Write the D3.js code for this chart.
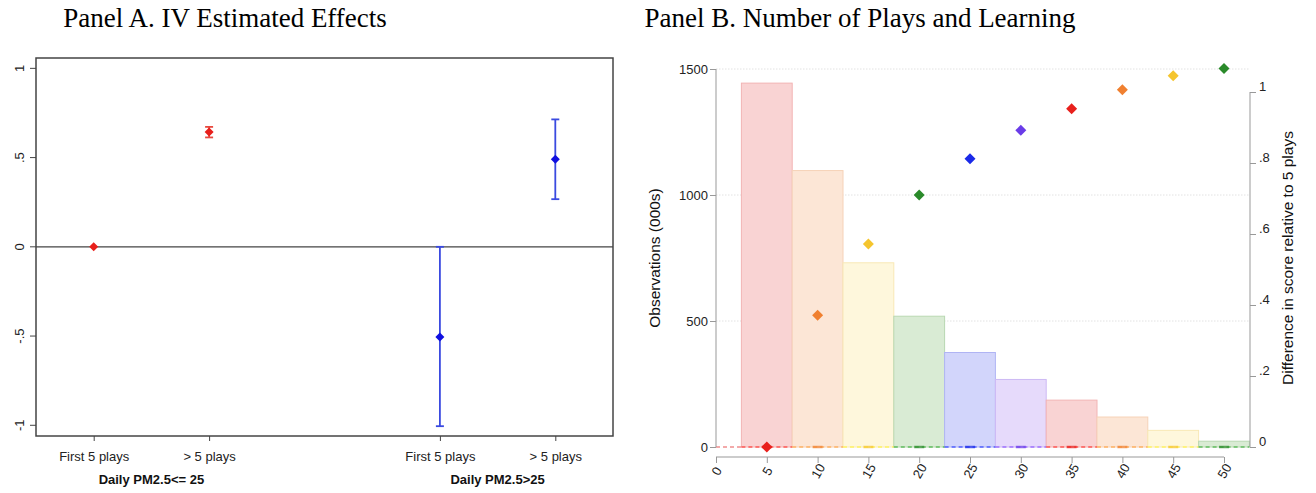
<!DOCTYPE html>
<html>
<head>
<meta charset="utf-8">
<script src="https://cdn.jsdelivr.net/npm/d3@7"></script>
<style>
  body { margin: 0; background: #fff; }
  svg { display: block; }
</style>
</head>
<body>
<svg id="chart" width="1316" height="493"></svg>
<script>
// Panel A data
var aLabels = ["First 5 plays", "> 5 plays", "First 5 plays", "> 5 plays"];
var aPos = [0.5, 1.5, 3.5, 4.5];
var aEst = [0, 0.643, -0.505, 0.49];
var aLow = [0, 0.613, -1.005, 0.267];
var aHigh = [0, 0.672, 0, 0.714];
var aColor = ["#e8201c", "#e8201c", "#1010e0", "#1010e0"];
var aGroups = ["Daily PM2.5<= 25", "Daily PM2.5>25"];
var aGroupPos = [1, 4];
var aTicks = [-1, -0.5, 0, 0.5, 1];

// Panel B data
var plays = [5, 10, 15, 20, 25, 30, 35, 40, 45, 50];
var obs = [1444, 1097, 731, 519, 375, 268, 186, 119, 66, 23];
var diff = [0, 0.371, 0.572, 0.71, 0.812, 0.892, 0.953, 1.006, 1.046, 1.066];
var markColor = ["#e8201c", "#f08030", "#f5c52e", "#2a8a2a", "#1a2ae8", "#6a3ce8", "#e8201c", "#f08030", "#f5c52e", "#2a8a2a"];
var barFill = ["#f9d3d3", "#fce6d6", "#fef7dc", "#d9ebd4", "#d2d5fb", "#e6dafb", "#f9d3d3", "#fce6d6", "#fef7dc", "#d9ebd4"];
var barStroke = ["#f2b4b4", "#f6d2b8", "#f8e8b6", "#b9d8b2", "#b0b4f4", "#cdb9f4", "#f2b4b4", "#f6d2b8", "#f8e8b6", "#b9d8b2"];
var obsTicks = [0, 500, 1000, 1500];
var diffTicks = [0, 0.2, 0.4, 0.6, 0.8, 1];
var xTicks = [0, 5, 10, 15, 20, 25, 30, 35, 40, 45, 50];

var svg = d3.select("#chart");
var sans = "'Liberation Sans Narrow', 'Liberation Sans', Arial, sans-serif";
var sansW = "'Liberation Sans', Arial, sans-serif";
var serif = "'Liberation Serif', 'DejaVu Serif', serif";

// stata style: .5, -.5, 1
function fmtDec(v) {
  return String(v).replace(/^(-?)0\./, "$1.");
}

function diamond(g, x, y, r, color) {
  g.append("path")
    .attr("d", "M" + x + "," + (y - r) + "L" + (x + r) + "," + y + "L" + x + "," + (y + r) + "L" + (x - r) + "," + y + "Z")
    .attr("fill", color);
}

// titles
svg.append("text").attr("x", 225).attr("y", 27).attr("text-anchor", "middle")
  .style("font-family", serif).style("font-size", "27px").text("Panel A. IV Estimated Effects");
svg.append("text").attr("x", 860).attr("y", 27).attr("text-anchor", "middle")
  .style("font-family", serif).style("font-size", "27px").text("Panel B. Number of Plays and Learning");

/**
Panel A
*/
var ax = d3.scaleLinear().domain([0, 5]).range([36, 613]);
var ay = d3.scaleLinear().domain([-1.06, 1.058]).range([436, 58]);
var pa = svg.append("g");

pa.append("rect").attr("x", ax(0)).attr("y", ay(1.058))
  .attr("width", ax(5) - ax(0)).attr("height", ay(-1.06) - ay(1.058))
  .attr("fill", "none").attr("stroke", "#444").attr("stroke-width", 1.5);
pa.append("line").attr("x1", ax(0)).attr("x2", ax(5)).attr("y1", ay(0)).attr("y2", ay(0))
  .attr("stroke", "#444").attr("stroke-width", 1.3);

var ayAxis = pa.append("g").attr("transform", "translate(" + ax(0) + ",0)")
  .call(d3.axisLeft(ay).tickValues(aTicks).tickSize(6).tickFormat(fmtDec));
ayAxis.select(".domain").remove();
ayAxis.selectAll(".tick").attr("transform", null);
ayAxis.selectAll(".tick line").attr("stroke", "#444")
  .each(function(d) { d3.select(this).attr("y1", ay(d)).attr("y2", ay(d)); });
ayAxis.selectAll(".tick text")
  .each(function(d) { d3.select(this).attr("transform", "rotate(-90," + (-17) + "," + ay(d) + ")").attr("x", -17).attr("y", ay(d)); })
  .attr("dy", "0.35em").attr("text-anchor", "middle")
  .style("font-family", sans).style("font-size", "13px").attr("fill", "#222");

var axAxis = pa.append("g").attr("transform", "translate(0," + ay(-1.06) + ")")
  .call(d3.axisBottom(ax).tickValues(aPos).tickSize(5).tickFormat(function(d, i) { return aLabels[i]; }));
axAxis.select(".domain").remove();
axAxis.selectAll("line").attr("stroke", "#444");
axAxis.selectAll("text").attr("y", 16).style("font-family", sans).style("font-size", "13px").attr("fill", "#222");

pa.selectAll(".grp").data(aGroups).enter().append("text")
  .attr("x", function(d, i) { return ax(aGroupPos[i]); }).attr("y", 484)
  .attr("text-anchor", "middle").style("font-family", sans).style("font-size", "13px")
  .style("font-weight", "bold").attr("fill", "#111").text(function(d) { return d; });

aPos.forEach(function(p, i) {
  var x = ax(p);
  if (aHigh[i] != aLow[i]) {
    var c = i < 2 ? "#e84a40" : "#3a4ae0";
    pa.append("line").attr("x1", x).attr("x2", x).attr("y1", ay(aHigh[i])).attr("y2", ay(aLow[i]))
      .attr("stroke", c).attr("stroke-width", 1.8);
    [aHigh[i], aLow[i]].forEach(function(v) {
      pa.append("line").attr("x1", x - 4).attr("x2", x + 4).attr("y1", ay(v)).attr("y2", ay(v))
        .attr("stroke", c).attr("stroke-width", 1.8);
    });
  }
  diamond(pa, x, ay(aEst[i]), 4.5, aColor[i]);
});

/**
Panel B
*/
var bx = d3.scaleLinear().domain([0, 50]).range([716, 1224]);
var by = d3.scaleLinear().domain([0, 1500]).range([447, 69]);
var by2 = d3.scaleLinear().domain([0, 1.0648]).range([447, 69]);
var pb = svg.append("g");

// gridlines
pb.selectAll(".grid").data(obsTicks.slice(1)).enter().append("line")
  .attr("x1", bx(0)).attr("x2", bx(52.5)).attr("y1", function(d) { return by(d); }).attr("y2", function(d) { return by(d); })
  .attr("stroke", "#e2e2e2").attr("stroke-width", 1).attr("stroke-dasharray", "1.5,1.5");

// bars
pb.selectAll(".bar").data(obs).enter().append("rect")
  .attr("x", function(d, i) { return bx(plays[i] - 2.5); })
  .attr("width", function(d, i) { return bx(plays[i] + 2.5) - bx(plays[i] - 2.5); })
  .attr("y", function(d) { return by(d); })
  .attr("height", function(d) { return by(0) - by(d); })
  .attr("fill", function(d, i) { return barFill[i]; })
  .attr("stroke", function(d, i) { return barStroke[i]; }).attr("stroke-width", 1);

// dashed baseline
pb.append("line").attr("x1", bx(0)).attr("x2", bx(2.5)).attr("y1", by(0)).attr("y2", by(0))
  .attr("stroke", "#f08f8f").attr("stroke-width", 1.3).attr("stroke-dasharray", "4,3");
plays.forEach(function(p, i) {
  pb.append("line").attr("x1", bx(p - 2.5)).attr("x2", bx(p + 2.5)).attr("y1", by(0)).attr("y2", by(0))
    .attr("stroke", d3.color(markColor[i]).brighter(0.6)).attr("stroke-opacity", 0.7)
    .attr("stroke-width", 1.3).attr("stroke-dasharray", "4,3");
  pb.append("line").attr("x1", bx(p) - 5).attr("x2", bx(p) + 5).attr("y1", by(0)).attr("y2", by(0))
    .attr("stroke", markColor[i]).attr("stroke-opacity", 0.7).attr("stroke-width", 2.5);
});

// diamonds
plays.forEach(function(p, i) {
  diamond(pb, bx(p), by2(diff[i]), 5.5, markColor[i]);
});

// left axis
var bl = pb.append("g").attr("transform", "translate(" + bx(0) + ",0)")
  .call(d3.axisLeft(by).tickValues(obsTicks).tickSize(6).tickFormat(d3.format("d")));
bl.select(".domain").attr("stroke", "#999").attr("d", "M0," + by(1500) + "V" + by(0));
bl.selectAll("line").attr("stroke", "#999");
bl.selectAll("text").style("font-family", sansW).style("font-size", "13px").attr("fill", "#222").attr("x", -8);

// right axis
var br = pb.append("g").attr("transform", "translate(1250,0)")
  .call(d3.axisRight(by2).tickValues(diffTicks).tickSize(6).tickFormat(fmtDec));
br.select(".domain").attr("stroke", "#999").attr("d", "M0," + by2(1) + "V" + by2(0));
br.selectAll("line").attr("stroke", "#999");
br.selectAll("text").style("font-family", sansW).style("font-size", "13px").attr("fill", "#222").attr("x", 9).attr("dy", "-0.1em");

// bottom axis
var bb = pb.append("g").attr("transform", "translate(0,457)")
  .call(d3.axisBottom(bx).tickValues(xTicks).tickSize(6));
bb.select(".domain").attr("stroke", "#999").attr("d", "M" + bx(0) + ",0H" + bx(50));
bb.selectAll("line").attr("stroke", "#999");
bb.selectAll("text").style("font-family", sansW).style("font-size", "13px").attr("fill", "#222")
  .attr("y", 0).attr("text-anchor", "middle")
  .attr("transform", "translate(0,14) rotate(-60)").attr("dy", "0.35em");

// axis titles
pb.append("text").attr("transform", "translate(660,258) rotate(-90)").attr("text-anchor", "middle")
  .style("font-family", sansW).style("font-size", "15.5px").attr("fill", "#111")
  .text("Observations (000s)");
pb.append("text").attr("transform", "translate(1293,258) rotate(-90)").attr("text-anchor", "middle")
  .style("font-family", sansW).style("font-size", "15.5px").attr("fill", "#111")
  .text("Difference in score relative to 5 plays");
</script>
</body>
</html>
